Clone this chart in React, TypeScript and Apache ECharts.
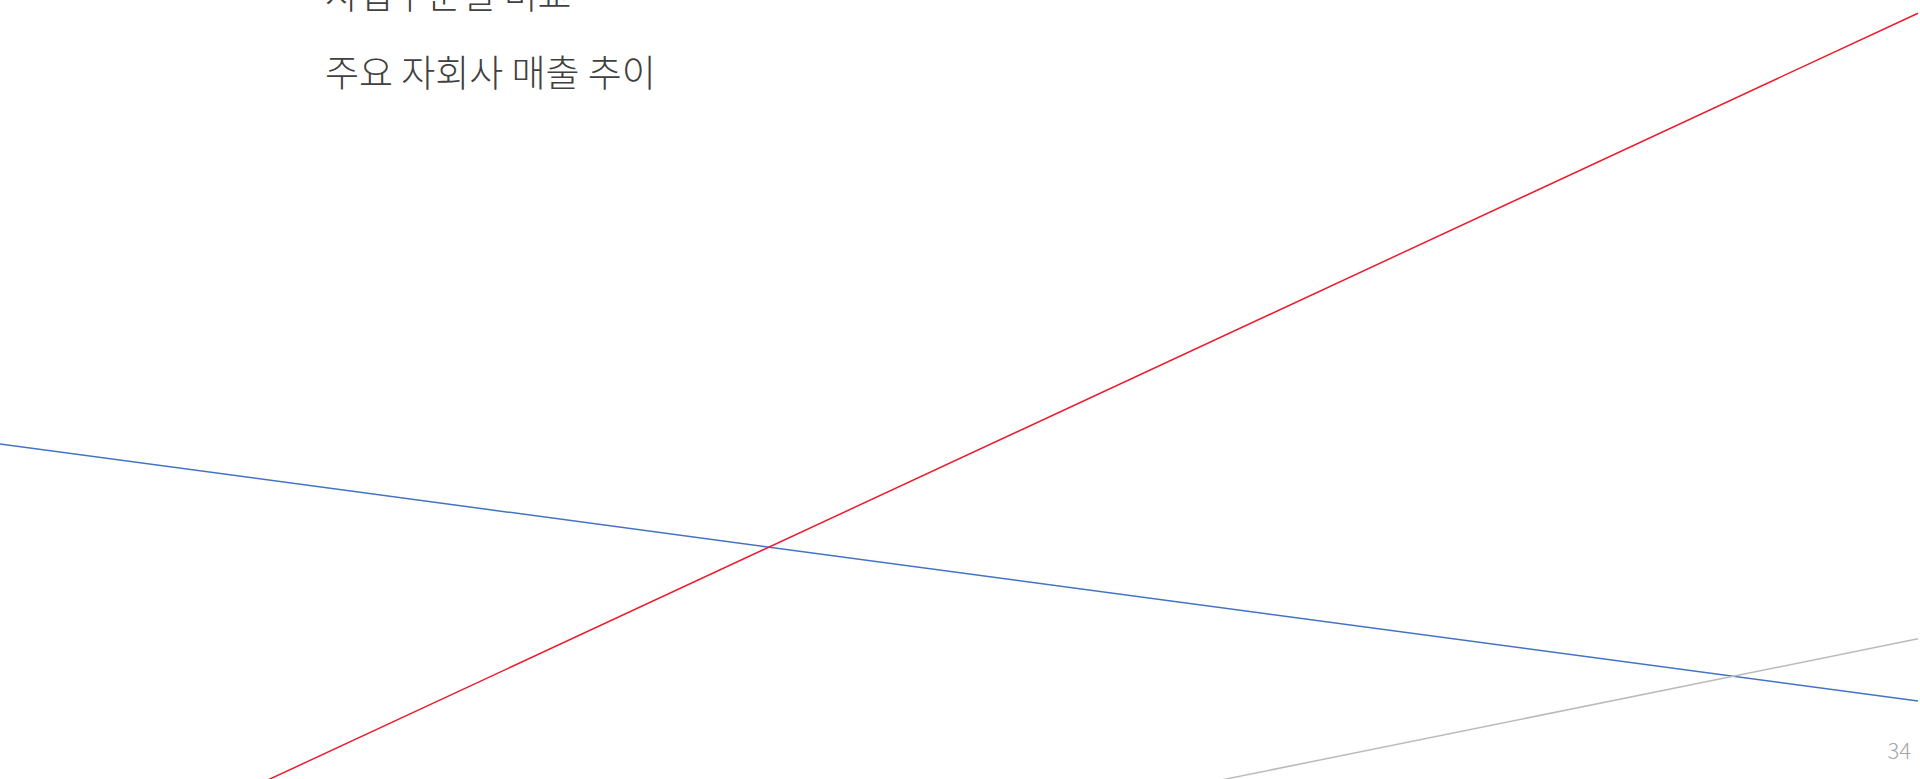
import React, { useEffect, useRef } from "react";
import * as echarts from "echarts";

const periods = ["이전", "현재"];
const seriesNames = ["자회사 A", "자회사 B", "자회사 C"];
const blueValues = [43.0, 10.0];
const redValues = [-16.1, 98.3];
const grayValues = [-31.9, 18.0];
const titleTop = "사업부문별 비교";
const titleMain = "주요 자회사 매출 추이";
const pageNumber = "34";

export default function App() {
  const ref = useRef<HTMLDivElement>(null);
  useEffect(() => {
    if (!ref.current) return;
    const chart = echarts.init(ref.current, null, { renderer: "svg" });
    const lineStyle = (color: string) => ({ color, width: 1.5 });
    const titleStyle = (text: string) => ({
      text,
      fontSize: 37,
      fontFamily: "Noto Sans CJK KR",
      fontWeight: 300,
      fill: "#404040",
      verticalAlign: "middle",
    });
    chart.setOption({
      animation: false,
      backgroundColor: "#ffffff",
      grid: { left: 0, top: 0, width: 1918, height: 779, containLabel: false },
      xAxis: {
        type: "category",
        data: periods,
        boundaryGap: false,
        show: false,
      },
      yAxis: {
        type: "value",
        min: 0,
        max: 100,
        show: false,
        splitLine: { show: false },
      },
      series: [
        {
          name: seriesNames[0],
          type: "line",
          data: blueValues,
          showSymbol: false,
          symbol: "none",
          clip: true,
          lineStyle: lineStyle("#4472C4"),
          itemStyle: { color: "#4472C4" },
        },
        {
          name: seriesNames[1],
          type: "line",
          data: redValues,
          showSymbol: false,
          symbol: "none",
          clip: true,
          lineStyle: lineStyle("#EC1C2E"),
          itemStyle: { color: "#EC1C2E" },
        },
        {
          name: seriesNames[2],
          type: "line",
          data: grayValues,
          showSymbol: false,
          symbol: "none",
          clip: true,
          lineStyle: lineStyle("#BBBBBB"),
          itemStyle: { color: "#BBBBBB" },
        },
      ],
      graphic: [
        { type: "text", x: 325, y: -7, style: titleStyle(titleTop) },
        { type: "text", x: 325, y: 71, style: titleStyle(titleMain) },
        {
          type: "text",
          x: 1911,
          y: 749,
          style: {
            text: pageNumber,
            fontSize: 22,
            fontFamily: "Noto Sans CJK KR",
            fontWeight: 300,
            fill: "#A6A6A6",
            align: "right",
            verticalAlign: "middle",
          },
        },
      ],
    });
    return () => chart.dispose();
  }, []);
  return (
    <div
      ref={ref}
      style={{ position: "absolute", left: 0, top: 0, width: 1920, height: 779 }}
    />
  );
}
